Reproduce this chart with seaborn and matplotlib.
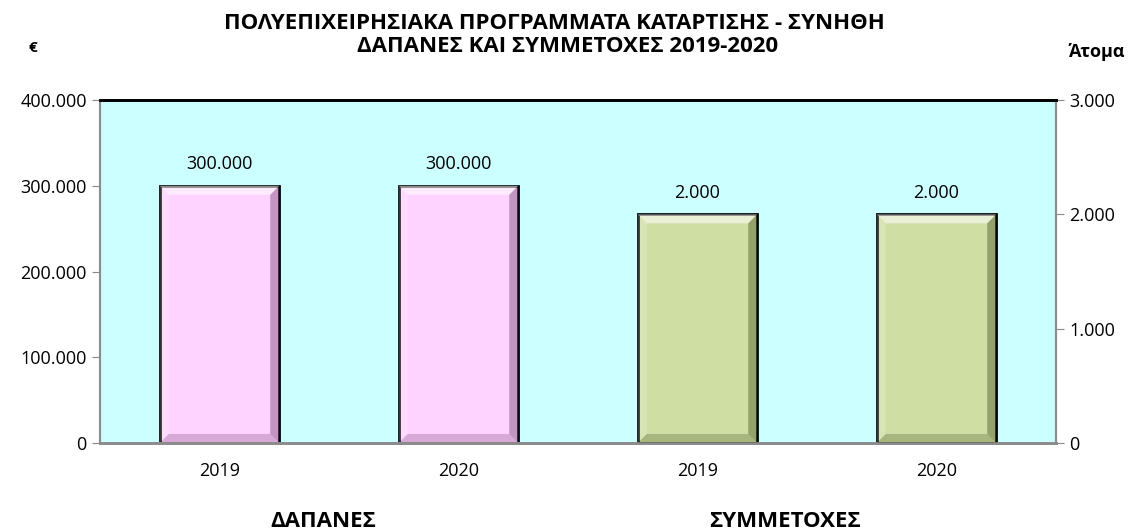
import pandas as pd
import numpy as np
import seaborn as sns
import matplotlib.pyplot as plt
from matplotlib.patches import Polygon
from matplotlib.ticker import FuncFormatter

# data
slots = ["D2019", "D2020", "S2019", "S2020"]
tick_labels = ["2019", "2020", "2019", "2020"]
dapanes = [300000, 300000]          # €
symmetoxes = [2000, 2000]           # άτομα

df_d = pd.DataFrame({"slot": slots[:2], "value": dapanes})
df_s = pd.DataFrame({"slot": slots[2:], "value": symmetoxes})

sns.set_style("white")
plt.rcParams['font.family'] = ['Open Sans', 'DejaVu Sans']
plt.rcParams['text.color'] = 'black'
plt.rcParams['xtick.color'] = 'black'
plt.rcParams['ytick.color'] = 'black'

fig = plt.figure(figsize=(11.29, 5.30), dpi=100)
ax = fig.add_axes([0.0886, 0.1642, 0.8467, 0.647])
ax.set_facecolor("#CCFFFF")
ax2 = ax.twinx()

sns.barplot(data=df_d, x="slot", y="value", order=slots, ax=ax,
            color="#FFD3FF", saturation=1, width=0.5,
            edgecolor="black", linewidth=2)
sns.barplot(data=df_s, x="slot", y="value", order=slots, ax=ax2,
            color="#CFDEA3", saturation=1, width=0.5,
            edgecolor="black", linewidth=2)

fmt = FuncFormatter(lambda v, p: f"{int(v):,}".replace(",", "."))
ax.set_ylim(0, 400000)
ax.set_yticks(np.arange(0, 400001, 100000))
ax.yaxis.set_major_formatter(fmt)
ax2.set_ylim(0, 3000)
ax2.set_yticks(np.arange(0, 3001, 1000))
ax2.yaxis.set_major_formatter(fmt)
ax.set_xlim(-0.5, 3.5)

# bevel look on bars (like the Excel bars)
for a, shade in ((ax, "#7a4a7a"), (ax2, "#4a5a2a")):
    ymax = a.get_ylim()[1]
    bx = 9 / (0.8467 * 1129) * 4
    by = 9 / (0.647 * 530) * ymax
    for p in a.patches:
        x0, x1 = p.get_x(), p.get_x() + p.get_width()
        y0, y1 = 0, p.get_height()
        if y1 <= 0:
            continue
        a.add_patch(Polygon([(x0, y1), (x1, y1), (x1 - bx, y1 - by), (x0 + bx, y1 - by)],
                            closed=True, facecolor="white", alpha=0.55, lw=0, zorder=3))
        a.add_patch(Polygon([(x1, y1), (x1, y0), (x1 - bx, y0 + by), (x1 - bx, y1 - by)],
                            closed=True, facecolor=shade, alpha=0.45, lw=0, zorder=3))
        a.add_patch(Polygon([(x0, y0), (x1, y0), (x1 - bx, y0 + by), (x0 + bx, y0 + by)],
                            closed=True, facecolor=shade, alpha=0.3, lw=0, zorder=3))
        a.add_patch(Polygon([(x0, y1), (x0, y0), (x0 + bx, y0 + by), (x0 + bx, y1 - by)],
                            closed=True, facecolor="white", alpha=0.2, lw=0, zorder=3))

for a in (ax, ax2):
    for c in a.containers:
        a.bar_label(c, labels=[fmt(v, None) for v in c.datavalues],
                    padding=9, fontsize=13)

ax.set_xticks(range(4))
ax.set_xticklabels(tick_labels, fontsize=13)
ax.set_xticks(np.arange(-0.5, 4, 1), minor=True)
ax.tick_params(axis="x", which="major", length=0, pad=14)
ax.tick_params(axis="x", which="minor", length=6, color="#888888", width=1)
ax.tick_params(axis="y", length=6, color="#888888", labelsize=13, left=True)
ax2.tick_params(axis="y", length=6, color="#888888", labelsize=13, right=True)
ax.set_xlabel("")
ax.set_ylabel("")
ax2.set_ylabel("")

for a in (ax, ax2):
    a.spines["top"].set_color("black")
    a.spines["top"].set_linewidth(2)
    a.spines["bottom"].set_color("#8C8C8C")
    a.spines["bottom"].set_linewidth(2)
    a.spines["left"].set_color("#8C8C8C")
    a.spines["right"].set_color("#8C8C8C")
    a.spines["left"].set_linewidth(1.5)
    a.spines["right"].set_linewidth(1.5)

fig.text(0.491, 0.955, "ΠΟΛΥΕΠΙΧΕΙΡΗΣΙΑΚΑ ΠΡΟΓΡΑΜΜΑΤΑ ΚΑΤΑΡΤΙΣΗΣ - ΣΥΝΗΘΗ",
         ha="center", va="center", fontsize=16, fontweight="bold")
fig.text(0.503, 0.912, "ΔΑΠΑΝΕΣ ΚΑΙ ΣΥΜΜΕΤΟΧΕΣ 2019-2020",
         ha="center", va="center", fontsize=16, fontweight="bold")
fig.text(0.029, 0.909, "€", ha="center", va="center", fontsize=11, fontweight="bold")
fig.text(0.971, 0.902, "Άτομα", ha="center", va="center", fontsize=13, fontweight="bold")
fig.text(0.286, 0.006, "ΔΑΠΑΝΕΣ", ha="center", va="baseline", fontsize=16, fontweight="bold")
fig.text(0.695, 0.006, "ΣΥΜΜΕΤΟΧΕΣ", ha="center", va="baseline", fontsize=16, fontweight="bold")

fig.savefig("out.png", dpi=100, facecolor="white")
